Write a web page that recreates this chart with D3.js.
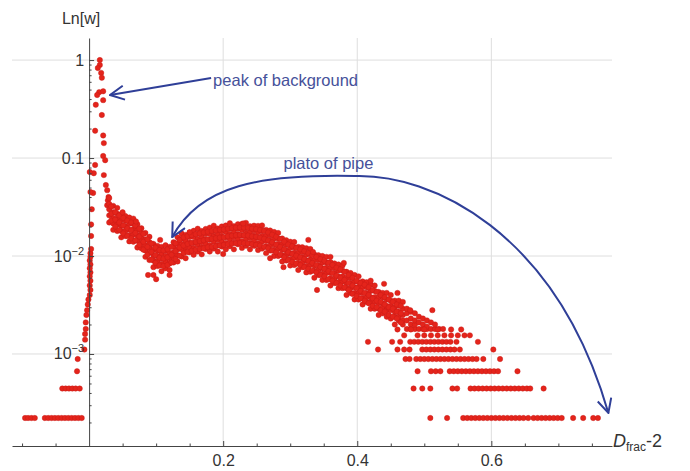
<!DOCTYPE html>
<html lang="en">
<head>
<meta charset="UTF-8">
<title>Ln[w] vs Dfrac-2</title>
<style>
  body { margin: 0; background: #fff; }
  svg { display: block; font-family: "Liberation Sans", Arial, sans-serif; }
</style>
<script src="https://cdn.jsdelivr.net/npm/d3@7"></script>
</head>
<body>
<svg id="chart" width="690" height="471"></svg>
<script>
// ---- data ----
const xTicks = [0.2, 0.4, 0.6];
const xMinor = [-0.1, -0.05, 0.05, 0.1, 0.15, 0.25, 0.3, 0.35, 0.45, 0.5, 0.55, 0.65, 0.7, 0.75];
const yTicks = [1, 0.1, 0.01, 0.001];
const yTickLabels = [["1", ""], ["0.1", ""], ["10", "\u22122"], ["10", "\u22123"]];

// peak of the background (x, w)
const peakX = [0.016, 0.016, 0.013, 0.018, 0.019, 0.015, 0.021, 0.012, 0.021, 0.010, 0.019, 0.009, 0.021, 0.022, 0.021, 0.024, 0.009, 0.022, 0.007, 0.025, 0.027, 0.006, 0.028, 0.027, 0.029];
const peakW = [1.0, 0.89, 0.83, 0.74, 0.66, 0.47, 0.48, 0.44, 0.39, 0.35, 0.275, 0.19, 0.17, 0.142, 0.105, 0.095, 0.085, 0.067, 0.07, 0.053, 0.047, 0.044, 0.037, 0.033, 0.04];

// points hugging the axis, left rise
const edgeX = [-0.006, -0.006, -0.005, -0.005, -0.004, -0.003, -0.002, -0.001, 0.001, 0.002, 0.001, 0.002, 0.001, 0.002, 0.001, 0.002, 0.001, 0.002, 0.002, 0.003, 0.003, 0.003, 0.004, 0.002, 0.001];
const edgeW = [0.0014, 0.0016, 0.0018, 0.0021, 0.0025, 0.0028, 0.0032, 0.0036, 0.004, 0.0045, 0.005, 0.0056, 0.0062, 0.0068, 0.0075, 0.0082, 0.009, 0.0098, 0.0107, 0.0118, 0.016, 0.021, 0.03, 0.045, 0.072];

// main band ("plato of pipe"), several w values per x column
const bandX = [0.030, 0.036, 0.042, 0.048, 0.054, 0.060, 0.066, 0.072, 0.078, 0.084,
  0.090, 0.096, 0.102, 0.108, 0.114, 0.120, 0.126, 0.132, 0.138, 0.144,
  0.150, 0.156, 0.162, 0.168, 0.174, 0.180, 0.186, 0.192, 0.198, 0.204,
  0.210, 0.216, 0.222, 0.228, 0.234, 0.240, 0.246, 0.252, 0.258, 0.264,
  0.270, 0.276, 0.282, 0.288, 0.294, 0.300, 0.306, 0.312, 0.318, 0.324,
  0.330, 0.336, 0.342, 0.348, 0.354, 0.360, 0.366, 0.372, 0.378, 0.384,
  0.390, 0.396, 0.402, 0.408, 0.414, 0.420, 0.426, 0.432, 0.438, 0.444,
  0.450, 0.456, 0.462, 0.468, 0.474, 0.480, 0.486, 0.492, 0.498, 0.504,
  0.510, 0.516, 0.522, 0.528];
const bandW = [
  [0.022, 0.026, 0.030, 0.034, 0.039], [0.0185, 0.0215, 0.0245, 0.028, 0.0325],
  [0.018, 0.021, 0.024, 0.027, 0.031], [0.0155, 0.018, 0.0204, 0.0232, 0.0267],
  [0.016, 0.018, 0.0202, 0.023, 0.0256], [0.0141, 0.0163, 0.0186, 0.0213, 0.0247],
  [0.014, 0.0166, 0.0187, 0.0212, 0.0241], [0.0122, 0.0143, 0.0162, 0.0184, 0.0211],
  [0.012, 0.0135, 0.0152, 0.0173, 0.0192], [0.0098, 0.0114, 0.0129, 0.0148, 0.0172],
  [0.0091, 0.0108, 0.0122, 0.0138, 0.0157], [0.0077, 0.009, 0.0102, 0.0116, 0.0133],
  [0.0079, 0.0089, 0.010, 0.0114, 0.0127], [0.007, 0.0082, 0.0093, 0.0106, 0.0124],
  [0.0075, 0.0088, 0.010, 0.0113, 0.0129], [0.0072, 0.0084, 0.0095, 0.0108, 0.0124],
  [0.0086, 0.0097, 0.0109, 0.0124, 0.0138], [0.0088, 0.0102, 0.0117, 0.0133, 0.0155],
  [0.0099, 0.0117, 0.0132, 0.015, 0.017], [0.0095, 0.0111, 0.0125, 0.0143, 0.0164],
  [0.0109, 0.0122, 0.0137, 0.0156, 0.0174], [0.0103, 0.012, 0.0136, 0.0156, 0.0181],
  [0.0111, 0.0131, 0.0148, 0.0168, 0.019], [0.0104, 0.0122, 0.0138, 0.0157, 0.018],
  [0.0118, 0.0133, 0.0149, 0.017, 0.0189], [0.0111, 0.0129, 0.0147, 0.0168, 0.0195],
  [0.0119, 0.014, 0.0158, 0.0179, 0.0204], [0.0111, 0.0129, 0.0146, 0.0166, 0.0191],
  [0.0125, 0.014, 0.0158, 0.0179, 0.02], [0.0117, 0.0136, 0.0155, 0.0177, 0.0205],
  [0.0126, 0.0148, 0.0167, 0.019, 0.0216], [0.0117, 0.0137, 0.0155, 0.0176, 0.0202],
  [0.0132, 0.0149, 0.0167, 0.019, 0.0211], [0.0121, 0.0141, 0.0161, 0.0184, 0.0213],
  [0.0127, 0.015, 0.017, 0.0192, 0.0218], [0.0117, 0.0136, 0.0154, 0.0175, 0.0201],
  [0.0127, 0.0143, 0.0161, 0.0183, 0.0204], [0.0115, 0.0134, 0.0153, 0.0175, 0.0203],
  [0.0119, 0.0141, 0.0159, 0.018, 0.0205], [0.0107, 0.0125, 0.0142, 0.0161, 0.0185],
  [0.0114, 0.0128, 0.0143, 0.0163, 0.0182], [0.010, 0.0116, 0.0132, 0.0151, 0.0176],
  [0.010, 0.0118, 0.0133, 0.0151, 0.0172], [0.0088, 0.0102, 0.0116, 0.0132, 0.0151],
  [0.009, 0.0102, 0.0114, 0.013, 0.0145], [0.008, 0.0093, 0.0106, 0.0121, 0.014],
  [0.0081, 0.0096, 0.0108, 0.0123, 0.0139], [0.0072, 0.0084, 0.0095, 0.0108, 0.0124],
  [0.0077, 0.0086, 0.0097, 0.011, 0.0123], [0.0068, 0.0079, 0.009, 0.0103, 0.012],
  [0.0069, 0.0081, 0.0092, 0.0104, 0.0118], [0.006, 0.0071, 0.008, 0.0091, 0.0104],
  [0.0064, 0.0072, 0.0081, 0.0092, 0.0102], [0.0057, 0.0066, 0.0075, 0.0086, 0.010],
  [0.0057, 0.0067, 0.0076, 0.0086, 0.0098], [0.005, 0.0059, 0.0067, 0.0076, 0.0087],
  [0.0053, 0.0059, 0.0067, 0.0076, 0.0084], [0.0047, 0.0054, 0.0062, 0.0071, 0.0082],
  [0.0047, 0.0055, 0.0062, 0.0071, 0.008], [0.004, 0.0047, 0.0053, 0.006, 0.0069],
  [0.0042, 0.0047, 0.0053, 0.006, 0.0067], [0.0036, 0.0042, 0.0048, 0.0055, 0.0064],
  [0.0036, 0.0042, 0.0048, 0.0054, 0.0062], [0.0032, 0.0037, 0.0042, 0.0048, 0.0055],
  [0.0034, 0.0038, 0.0042, 0.0048, 0.0054], [0.0029, 0.0034, 0.0038, 0.0044, 0.0051],
  [0.0029, 0.0034, 0.0038, 0.0044, 0.005], [0.0025, 0.0029, 0.0033, 0.0038, 0.0043],
  [0.0026, 0.003, 0.0033, 0.0038, 0.0042], [0.0024, 0.0028, 0.0031, 0.0036, 0.0042],
  [0.0023, 0.0028, 0.0031, 0.0035, 0.004], [0.002, 0.0024, 0.0027, 0.003, 0.0035],
  [0.0022, 0.0024, 0.0027, 0.0031, 0.0035], [0.002, 0.0022, 0.0025, 0.0029, 0.0034],
  [0.0018, 0.0022, 0.0026, 0.0029], [0.0018, 0.002, 0.0023, 0.0027],
  [0.0018, 0.002, 0.0022, 0.0026], [0.0018, 0.0021, 0.0024],
  [0.0018, 0.002, 0.0023], [0.0018, 0.0019, 0.0022],
  [0.0018, 0.0021], [0.0018, 0.002], [0.0018], [0.0018]
];

// in-between columns of the band
const fillX = [0.033, 0.039, 0.045, 0.051, 0.057, 0.063, 0.069, 0.075, 0.081, 0.087,
  0.093, 0.099, 0.105, 0.111, 0.117, 0.123, 0.129, 0.135, 0.141, 0.147,
  0.153, 0.159, 0.165, 0.171, 0.177, 0.183, 0.189, 0.195, 0.201, 0.207,
  0.213, 0.219, 0.225, 0.231, 0.237, 0.243, 0.249, 0.255, 0.261, 0.267,
  0.273, 0.279, 0.285, 0.291, 0.297, 0.303, 0.309, 0.315, 0.321, 0.327,
  0.333, 0.339, 0.345, 0.351, 0.357, 0.363, 0.369, 0.375, 0.381, 0.387,
  0.393, 0.399, 0.405, 0.411, 0.417, 0.423, 0.429, 0.435, 0.441, 0.447,
  0.453, 0.459, 0.465];
const fillW = [
  [0.023, 0.027, 0.032], [0.020, 0.0235, 0.028], [0.0185, 0.022, 0.026], [0.017, 0.0205, 0.0245],
  [0.016, 0.0192, 0.023], [0.0152, 0.0183, 0.022], [0.0145, 0.0172, 0.0205], [0.013, 0.0158, 0.019],
  [0.0116, 0.014, 0.0168], [0.0103, 0.0124, 0.0148], [0.0092, 0.011, 0.0134], [0.0085, 0.0102, 0.0122],
  [0.008, 0.0096, 0.0115], [0.0079, 0.0094, 0.0114], [0.0081, 0.0097, 0.0117], [0.0086, 0.0103, 0.0124],
  [0.0093, 0.0112, 0.0135], [0.0101, 0.0122, 0.0146], [0.0107, 0.0128, 0.0155], [0.011, 0.0133, 0.016],
  [0.0113, 0.0136, 0.0163], [0.0116, 0.0139, 0.0167], [0.0118, 0.0142, 0.017], [0.012, 0.0145, 0.0174],
  [0.0123, 0.0148, 0.0177], [0.0124, 0.015, 0.018], [0.0126, 0.0152, 0.0182], [0.0128, 0.0154, 0.0185],
  [0.013, 0.0156, 0.0187], [0.0132, 0.0159, 0.019], [0.0134, 0.0161, 0.0193], [0.0135, 0.0163, 0.0195],
  [0.0136, 0.0164, 0.0196], [0.0135, 0.0163, 0.0195], [0.0134, 0.0162, 0.0194], [0.0132, 0.0159, 0.019],
  [0.013, 0.0157, 0.0188], [0.0128, 0.0154, 0.0184], [0.0124, 0.015, 0.018], [0.012, 0.0145, 0.0174],
  [0.0114, 0.0138, 0.0165], [0.0109, 0.0131, 0.0157], [0.0103, 0.0124, 0.0149], [0.0097, 0.0117, 0.014],
  [0.0091, 0.0109, 0.0131], [0.0087, 0.0105, 0.0126], [0.0084, 0.0101, 0.0121], [0.0081, 0.0097, 0.0117],
  [0.0077, 0.0093, 0.0112], [0.0074, 0.0089, 0.0107], [0.0071, 0.0085, 0.0102], [0.0068, 0.0081, 0.0098],
  [0.0064, 0.0077, 0.0093], [0.0062, 0.0074, 0.0089], [0.0058, 0.007, 0.0085], [0.0056, 0.0067, 0.0081],
  [0.0053, 0.0063, 0.0076], [0.005, 0.006, 0.0073], [0.0048, 0.0057, 0.0069], [0.0045, 0.0053, 0.0064],
  [0.0041, 0.005, 0.006], [0.0039, 0.0047, 0.0056], [0.0037, 0.0044, 0.0053], [0.0035, 0.0042, 0.0051],
  [0.0033, 0.004, 0.0048], [0.0031, 0.0037, 0.0045], [0.003, 0.0035, 0.0043], [0.0028, 0.0034, 0.004],
  [0.0027, 0.0032, 0.0038], [0.0025, 0.003, 0.0036], [0.0024, 0.0029, 0.0034], [0.0023, 0.0027, 0.0032],
  [0.0021, 0.0026, 0.0031]
];

// stray points around the band
const strayX = [0.088, 0.096, 0.12, 0.106, 0.1, 0.327, 0.334, 0.46, 0.479, 0.512, 0.34, 0.27, 0.29, 0.38, 0.42, 0.44, 0.36, 0.2, 0.15, 0.23, 0.05, 0.07];
const strayW = [0.0064, 0.0064, 0.0064, 0.0146, 0.0058, 0.0146, 0.011, 0.0042, 0.0028, 0.0028, 0.0045, 0.0095, 0.0077, 0.0085, 0.0056, 0.0052, 0.0098, 0.0105, 0.0175, 0.0215, 0.028, 0.0225];

// quantised rows (1..8 counts) at the low end
const rowW = [0.000222, 0.000444, 0.000666, 0.000888, 0.00111, 0.00133, 0.00155, 0.00178];
const rowX = [
  [-0.0955, -0.091, -0.086, -0.081, -0.066, -0.061, -0.056, -0.051, -0.046, -0.041, -0.036, -0.031, -0.026, -0.021, -0.016, -0.011,
   0.509, 0.534, 0.558, 0.564, 0.570, 0.576, 0.582, 0.588, 0.594, 0.600, 0.606, 0.612, 0.618, 0.624, 0.630, 0.636, 0.642, 0.648, 0.655,
   0.663, 0.669, 0.675, 0.681, 0.687, 0.693, 0.699, 0.705, 0.722, 0.737, 0.752, 0.759],
  [-0.040, -0.035, -0.030, -0.025, -0.020, -0.014,
   0.484, 0.497, 0.509, 0.542, 0.549, 0.569, 0.575, 0.581, 0.587, 0.593, 0.599, 0.605, 0.611, 0.617, 0.623, 0.629, 0.635, 0.641, 0.647, 0.653, 0.658, 0.678],
  [-0.018, 0.490, 0.510, 0.517, 0.524, 0.538, 0.544, 0.550, 0.556, 0.562, 0.568, 0.574, 0.580, 0.586, 0.592, 0.598, 0.604, 0.610, 0.639],
  [-0.017, 0.472, 0.478, 0.488, 0.494, 0.500, 0.506, 0.512, 0.518, 0.524, 0.530, 0.536, 0.542, 0.548, 0.554, 0.560, 0.566, 0.572, 0.578, 0.588, 0.613],
  [-0.007, 0.431, 0.460, 0.470, 0.478, 0.497, 0.503, 0.509, 0.515, 0.521, 0.527, 0.533, 0.539, 0.545, 0.553, 0.603],
  [0.416, 0.452, 0.464, 0.479, 0.485, 0.491, 0.497, 0.503, 0.509, 0.515, 0.521, 0.527, 0.533, 0.539, 0.548, 0.58],
  [0.47, 0.49, 0.50, 0.51, 0.52, 0.53, 0.54, 0.55, 0.56, 0.568],
  [0.46, 0.48, 0.50, 0.52, 0.54, 0.555]
];

// ---- chart ----
const svg = d3.select("#chart");
const x = d3.scaleLinear().domain([-0.115, 0.78]).range([12, 612]);
const y = d3.scaleLog().domain([1.15e-4, 1.68]).range([446, 38]);

const red = "#e4241b";
const blue = "#2f3f98";
const grey = "#444";

// collect points
const points = [];
peakX.forEach((v, i) => points.push([v, peakW[i]]));
edgeX.forEach((v, i) => points.push([v, edgeW[i]]));
bandX.forEach((v, i) => bandW[i].forEach(w => points.push([v, w])));
fillX.forEach((v, i) => fillW[i].forEach(w => points.push([v, w])));
strayX.forEach((v, i) => points.push([v, strayW[i]]));
rowX.forEach((xs, k) => xs.forEach(v => points.push([v, rowW[k]])));

// grid
svg.append("g").selectAll("line").data(yTicks).join("line")
  .attr("x1", 12).attr("x2", 612)
  .attr("y1", d => y(d)).attr("y2", d => y(d))
  .attr("stroke", "#dedede");
svg.append("g").selectAll("line").data(xTicks).join("line")
  .attr("x1", d => x(d)).attr("x2", d => x(d))
  .attr("y1", 38).attr("y2", 446)
  .attr("stroke", "#dedede");

// points
svg.append("g").selectAll("circle").data(points).join("circle")
  .attr("cx", d => x(d[0])).attr("cy", d => y(d[1]))
  .attr("r", 2.7)
  .attr("fill", red)
  .attr("stroke", "#c41a16").attr("stroke-width", 0.4);

// x axis
const xAxis = svg.append("g").attr("transform", `translate(0,${y.range()[0]})`)
  .call(d3.axisBottom(x).tickValues(xTicks).tickSizeInner(-5).tickSizeOuter(0).tickPadding(9).tickFormat(d3.format(".1f")));
svg.append("g").attr("transform", `translate(0,${y.range()[0]})`)
  .call(d3.axisBottom(x).tickValues(xMinor).tickSizeInner(-2.5).tickSizeOuter(0).tickFormat(""))
  .select(".domain").remove();
xAxis.select(".domain").attr("stroke", grey);
xAxis.selectAll("text").attr("font-size", 16).attr("fill", "#333")
  .attr("font-family", "Liberation Sans, Arial, sans-serif");

// y axis
const yMinor = [];
[-4, -3, -2, -1, 0].forEach(e => d3.range(2, 10).forEach(m => {
  const v = m * Math.pow(10, e);
  if (v > y.domain()[0] && v < y.domain()[1]) yMinor.push(v);
}));
const yAxis = svg.append("g").attr("transform", `translate(${x(0)},0)`)
  .call(d3.axisLeft(y).tickValues(yTicks).tickSizeInner(-5).tickSizeOuter(0).tickFormat(""));
svg.append("g").attr("transform", `translate(${x(0)},0)`)
  .call(d3.axisLeft(y).tickValues(yMinor).tickSizeInner(-2.5).tickSizeOuter(0).tickFormat(""))
  .select(".domain").remove();
yAxis.select(".domain").attr("stroke", grey);
svg.selectAll(".tick line").attr("stroke", grey);

const yLab = svg.append("g").selectAll("text").data(yTicks).join("text")
  .attr("x", x(0) - 5).attr("y", d => y(d) + 5.5)
  .attr("text-anchor", "end").attr("font-size", 16).attr("fill", "#333");
yLab.each(function(d, i) {
  const t = d3.select(this);
  const [base, exp] = yTickLabels[i];
  t.append("tspan").text(base);
  if (exp) t.append("tspan").attr("font-size", 11).attr("dy", -7).text(exp);
});

// axis titles
svg.append("text").attr("x", x(0) - 8).attr("y", 24)
  .attr("text-anchor", "middle").attr("font-size", 16).attr("fill", "#333").text("Ln[w]");
const xt = svg.append("text").attr("x", 613).attr("y", 447).attr("font-size", 18).attr("fill", "#333");
xt.append("tspan").attr("font-style", "italic").text("D");
xt.append("tspan").attr("font-size", 12).attr("dy", 4).text("frac");
xt.append("tspan").attr("dy", -4).text("-2");

// annotations
const defs = svg.append("defs");
defs.append("marker").attr("id", "head")
  .attr("viewBox", "0 0 16 16").attr("refX", 15).attr("refY", 8)
  .attr("markerWidth", 16).attr("markerHeight", 16)
  .attr("markerUnits", "userSpaceOnUse").attr("orient", "auto-start-reverse")
  .append("path").attr("d", "M1,1 L15,8 L1,15")
  .attr("fill", "none").attr("stroke", blue).attr("stroke-width", 2);

// peak of background
const peakFrom = [0.182, 0.655], peakTo = [0.0313, 0.44];
svg.append("line")
  .attr("x1", x(peakFrom[0])).attr("y1", y(peakFrom[1]))
  .attr("x2", x(peakTo[0])).attr("y2", y(peakTo[1]))
  .attr("stroke", blue).attr("stroke-width", 2).attr("marker-end", "url(#head)");
svg.append("text").attr("x", x(0.185)).attr("y", y(0.62)).attr("dy", "0.35em")
  .attr("font-size", 16.5).attr("fill", "#46519a").text("peak of background");

// plato of pipe, two-headed curve
const cLeft = [0.124, 0.0156], cL1 = [0.1657, 0.053], cL2 = [0.2552, 0.0687];
const cApex = [0.397, 0.0655], cR1 = [0.509, 0.0687], cR2 = [0.6955, 0.0184], cRight = [0.7746, 0.00025];
const P = p => `${x(p[0])},${y(p[1])}`;
svg.append("path")
  .attr("d", `M${P(cLeft)} C${P(cL1)} ${P(cL2)} ${P(cApex)} C${P(cR1)} ${P(cR2)} ${P(cRight)}`)
  .attr("fill", "none").attr("stroke", blue).attr("stroke-width", 2)
  .attr("marker-start", "url(#head)").attr("marker-end", "url(#head)");
svg.append("text").attr("x", x(0.357)).attr("y", y(0.089)).attr("dy", "0.35em")
  .attr("text-anchor", "middle").attr("font-size", 16.5).attr("fill", "#46519a").text("plato of pipe");
</script>
</body>
</html>
